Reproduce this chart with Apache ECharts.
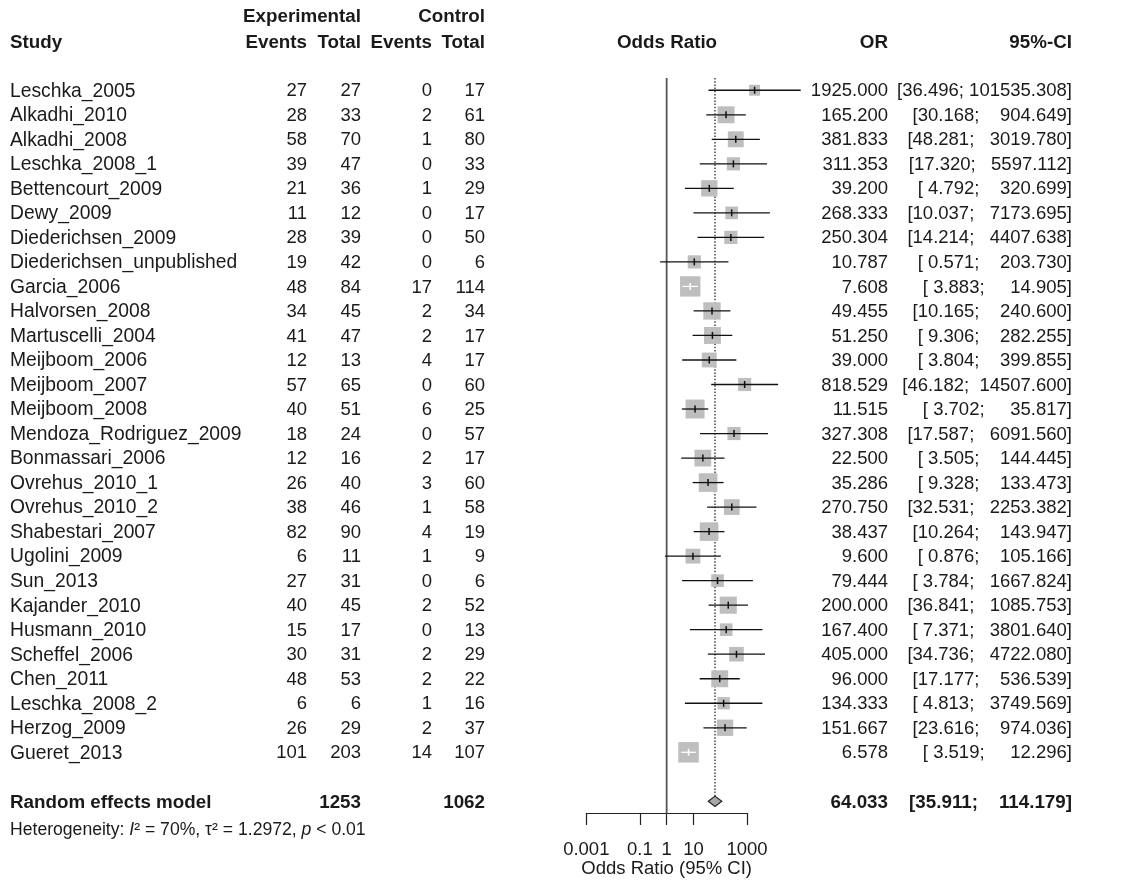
<!DOCTYPE html>
<html><head><meta charset="utf-8">
<script src="https://cdn.jsdelivr.net/npm/echarts@6/dist/echarts.min.js"></script>
<style>html,body{margin:0;padding:0;background:#fff}#c{width:1125px;height:886px}</style>
</head><body><div id="c"></div>
<script>
const studies = ['Leschka_2005','Alkadhi_2010','Alkadhi_2008','Leschka_2008_1','Bettencourt_2009','Dewy_2009','Diederichsen_2009','Diederichsen_unpublished','Garcia_2006','Halvorsen_2008','Martuscelli_2004','Meijboom_2006','Meijboom_2007','Meijboom_2008','Mendoza_Rodriguez_2009','Bonmassari_2006','Ovrehus_2010_1','Ovrehus_2010_2','Shabestari_2007','Ugolini_2009','Sun_2013','Kajander_2010','Husmann_2010','Scheffel_2006','Chen_2011','Leschka_2008_2','Herzog_2009','Gueret_2013'];
const expEvents = [27,28,58,39,21,11,28,19,48,34,41,12,57,40,18,12,26,38,82,6,27,40,15,30,48,6,26,101];
const expTotal = [27,33,70,47,36,12,39,42,84,45,47,13,65,51,24,16,40,46,90,11,31,45,17,31,53,6,29,203];
const ctrlEvents = [0,2,1,0,1,0,0,0,17,2,2,4,0,6,0,2,3,1,4,1,0,2,0,2,2,1,2,14];
const ctrlTotal = [17,61,80,33,29,17,50,6,114,34,17,17,60,25,57,17,60,58,19,9,6,52,13,29,22,16,37,107];
const orValues = [1925.000,165.200,381.833,311.353,39.200,268.333,250.304,10.787,7.608,49.455,51.250,39.000,818.529,11.515,327.308,22.500,35.286,270.750,38.437,9.600,79.444,200.000,167.400,405.000,96.000,134.333,151.667,6.578];
const ciLower = [36.496,30.168,48.281,17.320,4.792,10.037,14.214,0.571,3.883,10.165,9.306,3.804,46.182,3.702,17.587,3.505,9.328,32.531,10.264,0.876,3.784,36.841,7.371,34.736,17.177,4.813,23.616,3.519];
const ciUpper = [101535.308,904.649,3019.780,5597.112,320.699,7173.695,4407.638,203.730,14.905,240.600,282.255,399.855,14507.600,35.817,6091.560,144.445,133.473,2253.382,143.947,105.166,1667.824,1085.753,3801.640,4722.080,536.539,3749.569,974.036,12.296];
// random-effects weights (%), estimated from square sizes
const weights = [1.8,4.3,3.8,2.6,4.0,2.4,2.6,2.6,6.2,4.5,4.3,3.3,2.6,5.4,2.6,4.2,5.2,3.7,5.2,3.3,2.4,4.4,2.4,3.2,4.3,2.3,4.0,6.3];
const pooledLabel = 'Random effects model';
const pooledOR = 64.033, pooledLower = 35.911, pooledUpper = 114.179;
const expTotalSum = 1253, ctrlTotalSum = 1062;
const axisTicks = [0.001, 0.1, 1, 10, 1000];
const axisTitle = 'Odds Ratio (95% CI)';

const FONT = '"Liberation Sans", Arial, Helvetica, sans-serif';
const FS = 18.5;
const FS_NAME = 19.3;
const TXT = '#1a1a1a';
const nRows = studies.length;
const pooledRow = nRows + 1;
const rowStep = 24.52;
const boxScale = 20.5 / Math.sqrt(Math.max.apply(null, weights));

const chart = echarts.init(document.getElementById('c'));

const studyData = studies.map((s, i) => [orValues[i], i, ciLower[i], ciUpper[i], weights[i]]);

const option = {
  animation: false,
  grid: [
    {left: 586.3, width: 26.78 * 8.1, top: 90.26 - rowStep * 0.5, height: rowStep * (pooledRow + 1)},
    {left: 586.3, width: 26.78 * 6, top: 812, height: 1}
  ],
  xAxis: [
    {type: 'log', logBase: 10, gridIndex: 0, min: 0.001, max: Math.pow(10, 5.1), show: false},
    {type: 'log', logBase: 10, gridIndex: 1, min: 0.001, max: 1000, position: 'bottom',
     axisLine: {show: true, lineStyle: {color: '#222', width: 1.2}},
     axisTick: {show: true, length: 12, customValues: axisTicks, lineStyle: {color: '#222', width: 1.2}},
     axisLabel: {customValues: axisTicks, margin: 27, color: TXT, fontSize: FS, fontFamily: FONT,
       formatter: v => String(Number(Number(v).toPrecision(6)))},
     splitLine: {show: false}, minorTick: {show: false},
     name: axisTitle, nameLocation: 'middle', nameGap: 44,
     nameTextStyle: {color: TXT, fontSize: FS, fontFamily: FONT}}
  ],
  yAxis: [
    {type: 'value', gridIndex: 0, inverse: true, min: -0.5, max: pooledRow + 0.5, show: false},
    {type: 'value', gridIndex: 1, show: false}
  ],
  series: [
    {type: 'line', xAxisIndex: 0, yAxisIndex: 0, data: [[1, -0.5], [1, pooledRow + 0.5]], symbol: 'none',
     lineStyle: {color: '#555', width: 1.8}, z: 1, silent: true},
    {type: 'line', xAxisIndex: 0, yAxisIndex: 0, data: [[pooledOR, -0.5], [pooledOR, pooledRow]], symbol: 'none',
     lineStyle: {color: '#444', width: 1.5, type: [1.5, 1.7]}, z: 1, silent: true},
    {type: 'custom', xAxisIndex: 0, yAxisIndex: 0, data: studyData, z: 3, silent: true,
     renderItem: function (params, api) {
       const c = api.coord([api.value(0), api.value(1)]);
       const cl = api.coord([api.value(2), api.value(1)]);
       const ch = api.coord([api.value(3), api.value(1)]);
       const side = boxScale * Math.sqrt(api.value(4));
       const inside = (ch[0] - cl[0]) < side;
       const col = inside ? '#fff' : '#111';
       return {type: 'group', children: [
         {type: 'rect', shape: {x: c[0] - side / 2, y: c[1] - side / 2, width: side, height: side}, style: {fill: '#bebebe'}},
         {type: 'line', shape: {x1: cl[0], y1: c[1], x2: ch[0], y2: c[1]}, style: {stroke: col, lineWidth: 1.3}},
         {type: 'line', shape: {x1: c[0], y1: c[1] - 3.5, x2: c[0], y2: c[1] + 3.5}, style: {stroke: col, lineWidth: 1.5}}
       ]};
     }},
    {type: 'custom', xAxisIndex: 0, yAxisIndex: 0, data: [[pooledOR, pooledRow, pooledLower, pooledUpper]], z: 4, silent: true,
     renderItem: function (params, api) {
       const c = api.coord([api.value(0), api.value(1)]);
       const cl = api.coord([api.value(2), api.value(1)]);
       const ch = api.coord([api.value(3), api.value(1)]);
       const h = 5.2;
       return {type: 'polygon', shape: {points: [[cl[0], c[1]], [c[0], c[1] - h], [ch[0], c[1]], [c[0], c[1] + h]]},
         style: {fill: '#a8a8a8', stroke: '#222', lineWidth: 1.2}};
     }}
  ]
};
chart.setOption(option);

const yPix = r => chart.convertToPixel({yAxisIndex: 0}, r);
const fmtCI = (lo, up) => '[' + lo.toFixed(3).padStart(6, ' ') + '; ' + up.toFixed(3).padStart(10, ' ') + ']';
const els = [];
function txt(text, x, y, align, bold, size) {
  els.push({type: 'text', silent: true, style: {text: String(text), x: x, y: y, align: align, verticalAlign: 'middle',
    fontSize: size || FS, fontFamily: FONT, fontWeight: bold ? 'bold' : 'normal', fill: TXT}});
}
const col = {study: 10, ee: 307, et: 361, ce: 432, ct: 485, plot: 667, or: 888, ci: 1072};
// headers
txt('Experimental', col.et, 17, 'right', true, 18.8);
txt('Control', col.ct, 17, 'right', true, 18.8);
txt('Study', col.study, 43, 'left', true, 18.8);
txt('Events', col.ee, 43, 'right', true, 18.8);
txt('Total', col.et, 43, 'right', true, 18.8);
txt('Events', col.ce, 43, 'right', true, 18.8);
txt('Total', col.ct, 43, 'right', true, 18.8);
txt('Odds Ratio', col.plot, 43, 'center', true, 18.8);
txt('OR', col.or, 43, 'right', true, 18.8);
txt('95%-CI', col.ci, 43, 'right', true, 18.8);
studies.forEach((s, i) => {
  const y = yPix(i) + 1;
  txt(s, col.study, y, 'left', false, FS_NAME);
  txt(expEvents[i], col.ee, y, 'right', false);
  txt(expTotal[i], col.et, y, 'right', false);
  txt(ctrlEvents[i], col.ce, y, 'right', false);
  txt(ctrlTotal[i], col.ct, y, 'right', false);
  txt(orValues[i].toFixed(3), col.or, y, 'right', false);
  txt(fmtCI(ciLower[i], ciUpper[i]), col.ci, y, 'right', false);
});
const py = yPix(pooledRow) + 1;
txt(pooledLabel, col.study, py, 'left', true, 18.8);
txt(expTotalSum, col.et, py, 'right', true, 18.8);
txt(ctrlTotalSum, col.ct, py, 'right', true, 18.8);
txt(pooledOR.toFixed(3), col.or, py, 'right', true, 18.8);
txt(fmtCI(pooledLower, pooledUpper), col.ci, py, 'right', true, 18.8);
const HS = 17.6;
els.push({type: 'text', silent: true, style: {
  text: 'Heterogeneity: {i|I}² = 70%, τ² = 1.2972, {i|p} < 0.01',
  x: col.study, y: py + 28, align: 'left', verticalAlign: 'middle', fontSize: HS, fontFamily: FONT, fill: TXT,
  rich: {i: {fontStyle: 'italic', fontSize: HS, fontFamily: FONT, fill: TXT}}}});
chart.setOption({graphic: {elements: els}});
</script>
</body></html>
